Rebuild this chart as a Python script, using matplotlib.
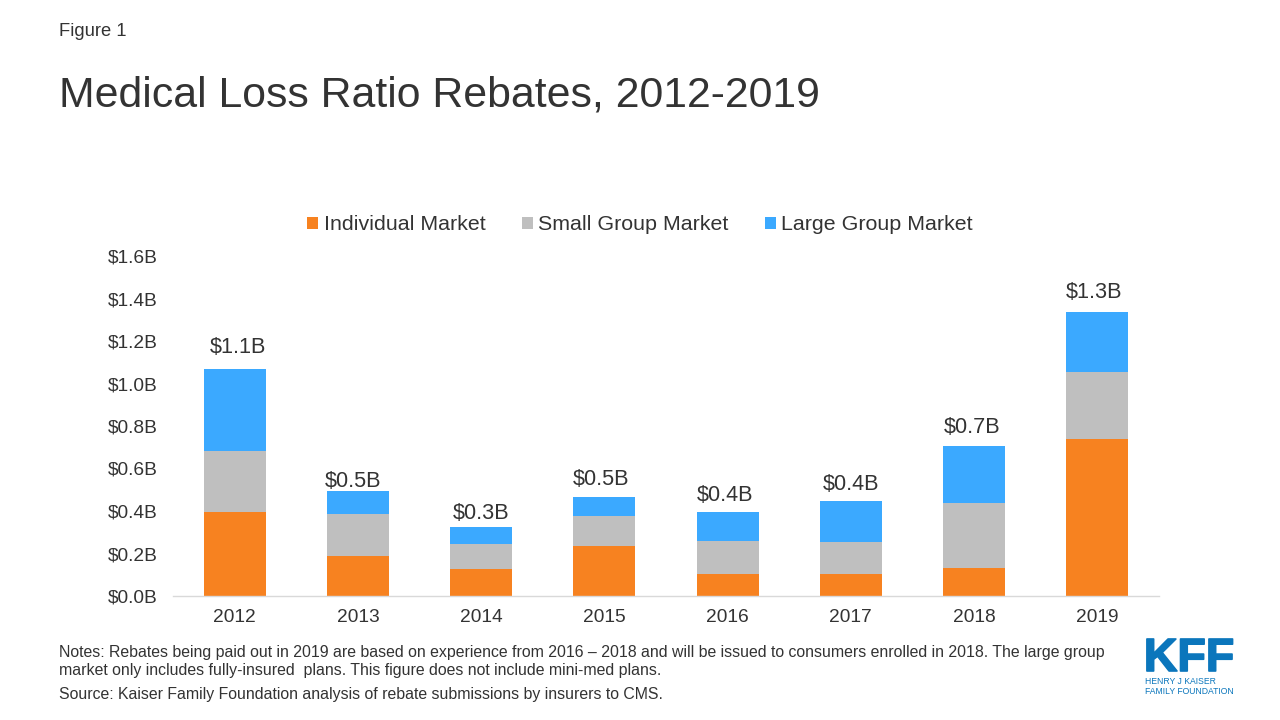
import matplotlib
matplotlib.use("Agg")
import matplotlib.pyplot as plt
import matplotlib.patheffects as pe
import numpy as np

plt.rcParams['font.family'] = ['Liberation Sans', 'DejaVu Sans']

# valores (miles de millones de dolares)
anios = ["2012", "2013", "2014", "2015", "2016", "2017", "2018", "2019"]
individual = [0.395, 0.188, 0.127, 0.235, 0.104, 0.104, 0.132, 0.739]
pequeno = [0.287, 0.198, 0.118, 0.141, 0.155, 0.150, 0.306, 0.315]
grande = [0.386, 0.108, 0.080, 0.090, 0.136, 0.193, 0.268, 0.282]
etiquetas = ["$1.1B", "$0.5B", "$0.3B", "$0.5B", "$0.4B", "$0.4B", "$0.7B", "$1.3B"]
marcas_y = [0.0, 0.2, 0.4, 0.6, 0.8, 1.0, 1.2, 1.4, 1.6]

# desplazamiento de cada etiqueta respecto a su barra, en pixeles
desp_x = [3, -5, 0, -3, -3, 0, -2, -3]
desp_y = [22, 10, 13, 17, 17, 17, 18, 20]

TEXTO = "#333333"
NARANJA = "#F78220"
GRIS = "#BFBFBF"
AZUL = "#3BA9FF"
LOGO = "#0B76BC"

fig = plt.figure(figsize=(12.8, 7.2), dpi=100, facecolor="white")
ax = fig.add_axes([173 / 1280, 124 / 720, 986 / 1280, 340 / 720])

x = np.arange(len(anios))
ind = np.array(individual)
peq = np.array(pequeno)
gra = np.array(grande)
ancho = 0.503

ax.bar(x, ind, ancho, color=NARANJA, label="Individual Market")
ax.bar(x, peq, ancho, bottom=ind, color=GRIS, label="Small Group Market")
ax.bar(x, gra, ancho, bottom=ind + peq, color=AZUL, label="Large Group Market")

for xi, total, et, dx, dy in zip(x, ind + peq + gra, etiquetas, desp_x, desp_y):
    ax.annotate(et, (xi, total), xytext=(dx * 0.72, dy * 0.72), textcoords="offset points",
                ha="center", va="center", fontsize=15.6, color=TEXTO)

ax.set_xlim(-0.5, 7.5)
ax.set_ylim(0, 1.6)
ax.set_xticks(x, anios)
ax.set_yticks(marcas_y, [f"${v:.1f}B" for v in marcas_y])
ax.tick_params(axis="both", length=0, labelsize=13.8, labelcolor=TEXTO)
ax.tick_params(axis="x", pad=9)
ax.tick_params(axis="y", pad=11)
for lado in ["top", "right", "left"]:
    ax.spines[lado].set_visible(False)
ax.spines["bottom"].set_color("#D9D9D9")
ax.spines["bottom"].set_linewidth(1.0)

ax.legend(loc="center", bbox_to_anchor=(640 / 1280, 1 - 225 / 720),
          bbox_transform=fig.transFigure, ncol=3, frameon=False,
          fontsize=15.4, labelcolor=TEXTO, handlelength=0.52, handleheight=0.52,
          handletextpad=0.25, columnspacing=1.7, borderpad=0)

fig.text(59 / 1280, 1 - 31 / 720, "Figure 1", fontsize=13.2, color=TEXTO, va="center")
fig.text(59 / 1280, 1 - 95 / 720, "Medical Loss Ratio Rebates, 2012-2019",
         fontsize=30.8, color=TEXTO, va="center")

fig.text(59 / 1280, 1 - 652 / 720,
         "Notes: Rebates being paid out in 2019 are based on experience from 2016 \u2013 2018 "
         "and will be issued to consumers enrolled in 2018. The large group",
         fontsize=11.48, color=TEXTO, va="center")
fig.text(59 / 1280, 1 - 671 / 720,
         "market only includes fully-insured  plans. This figure does not include mini-med plans.",
         fontsize=11.48, color=TEXTO, va="center")
fig.text(59 / 1280, 1 - 694 / 720,
         "Source: Kaiser Family Foundation analysis of rebate submissions by insurers to CMS.",
         fontsize=11.48, color=TEXTO, va="center")

# logo
kff = fig.text(1189 / 1280, 1 - 659 / 720, "KFF", fontsize=33.5, fontweight="bold", color=LOGO,
               ha="center", va="center")
kff.set_path_effects([pe.withStroke(linewidth=1.2, foreground=LOGO)])
fig.text(1145 / 1280, 1 - 682 / 720, "HENRY J KAISER", fontsize=6.2, color=LOGO, va="center")
fig.text(1145 / 1280, 1 - 692 / 720, "FAMILY FOUNDATION", fontsize=6.2, color=LOGO, va="center")

fig.savefig("out.png", dpi=100)
